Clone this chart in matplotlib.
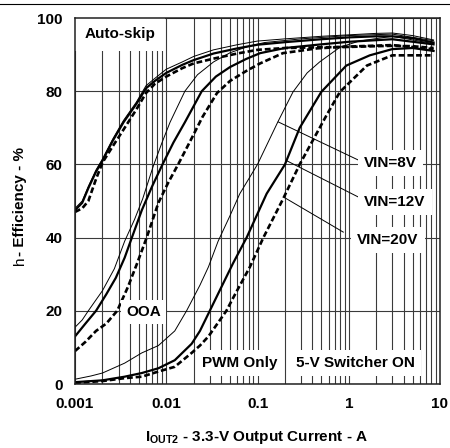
import numpy as np
import matplotlib
matplotlib.use("Agg")
import matplotlib.pyplot as plt
from matplotlib.lines import Line2D

plt.rcParams['font.family'] = ['Liberation Sans', 'DejaVu Sans']
plt.rcParams['mathtext.fontset'] = 'custom'
plt.rcParams['mathtext.rm'] = 'Liberation Sans:bold'
plt.rcParams['mathtext.bf'] = 'Liberation Sans:bold'

# ---- data (x in A, y in %) ----
# Auto-skip
as_x = [0.001, 0.0012, 0.0014, 0.0017, 0.002, 0.0026, 0.0034, 0.0047, 0.006, 0.0075, 0.01,
        0.015, 0.02, 0.033, 0.06, 0.1, 0.2, 0.5, 1.0, 2.0, 3.0, 5.0, 8.5]
as_8v = [48, 50, 54, 58.5, 61.5, 67, 72, 77, 81.5, 83.5, 86,
         88, 89.5, 91.3, 92.7, 93.7, 94.3, 95, 95.4, 95.8, 95.9, 95.2, 94]
as_12v = [47.5, 49.5, 53.5, 58, 61, 66.5, 71.5, 76.5, 80.8, 82.8, 85,
          87.2, 88.5, 90.3, 91.7, 92.7, 93.4, 94.2, 94.7, 95, 95, 94.5, 93.3]
as_20v = [47, 48, 50, 56, 60.5, 65, 69.5, 75, 79.5, 82, 84,
          86.3, 87.6, 88.9, 90.3, 91.3, 91.8, 92, 92.1, 92.3, 92.4, 92.3, 91.8]

# OOA
ooa8_x = [0.001, 0.0012, 0.0014, 0.0017, 0.002, 0.0027, 0.0035, 0.0045, 0.0055, 0.0072, 0.009,
          0.011, 0.016, 0.022, 0.033, 0.05, 0.08, 0.12, 0.3, 1.0, 3.0, 8.5]
ooa8_y = [15.5, 17.5, 20, 23, 25.5, 31.5, 39, 45, 50.5, 59.5, 66,
          71.5, 80, 84.5, 88, 90.5, 92.3, 93.3, 94.3, 95.2, 95.6, 93.8]
ooa12_x = [0.001, 0.0013, 0.0017, 0.0022, 0.0028, 0.0035, 0.0042, 0.0054, 0.007, 0.0091, 0.012,
           0.016, 0.0245, 0.035, 0.05, 0.075, 0.107, 0.2, 0.5, 1.0, 3.0, 8.5]
ooa12_y = [13, 16.5, 20, 24.5, 29, 34.5, 40, 47.5, 54, 60, 66,
           71.5, 80, 84, 86.6, 88.8, 90.4, 91.8, 92.8, 93.5, 94.2, 92.8]
ooa20_x = [0.001, 0.0013, 0.0017, 0.0022, 0.0029, 0.0038, 0.0048, 0.0061, 0.0082, 0.0105, 0.0135,
           0.018, 0.025, 0.036, 0.05, 0.075, 0.107, 0.19, 0.45, 1.0, 3.0, 8.5]
ooa20_y = [9, 11.5, 14.5, 16.5, 20, 26.5, 33, 40, 49.5, 55, 60,
           66, 73, 79.5, 82.8, 85.5, 87.6, 90.4, 91.7, 92.2, 92.6, 91.5]

# PWM only
pwm8_x = [0.001, 0.0015, 0.002, 0.0035, 0.0054, 0.0082, 0.0124, 0.0167, 0.0234, 0.029, 0.037,
          0.05, 0.064, 0.1, 0.167, 0.245, 0.35, 0.48, 0.8, 1.3, 3.0, 8.5]
pwm8_y = [1.3, 2.2, 3, 5.7, 8.5, 10.5, 14.5, 20, 27, 32, 39,
          46, 52, 60, 71.6, 79.8, 85, 88, 92, 93.7, 95, 93]
pwm12_x = [0.001, 0.002, 0.0035, 0.0054, 0.0082, 0.0124, 0.019, 0.0234, 0.03, 0.0388, 0.054,
           0.076, 0.126, 0.2, 0.29, 0.5, 0.94, 1.7, 3.0, 5.0, 8.5]
pwm12_y = [0.5, 1, 2, 3, 4.3, 6.5, 11, 14.5, 20, 25.7, 33,
           40, 52, 60, 70, 79.8, 87, 89.8, 91.5, 91.8, 91]
pwm20_x = [0.001, 0.002, 0.0035, 0.0054, 0.0082, 0.0124, 0.019, 0.0234, 0.029, 0.0388, 0.0456,
           0.054, 0.0826, 0.116, 0.19, 0.29, 0.57, 0.8, 1.58, 3.0, 8.5]
pwm20_y = [0.3, 0.8, 1.6, 2, 3.4, 4.7, 8.5, 10.5, 13, 17.5, 20,
           23.5, 32, 40, 50.5, 60, 73.4, 79.8, 87, 89.8, 89.8]

y_ticks = [0, 20, 40, 60, 80, 100]
x_ticks = [0.001, 0.01, 0.1, 1, 10]
x_tick_labels = ["0.001", "0.01", "0.1", "1", "10"]

fig = plt.figure(figsize=(4.5, 4.48), dpi=100)
ax = fig.add_axes([75/450, 64/448, 365/450, 366/448])

thin = dict(color="black", lw=0.7, zorder=2)
thick = dict(color="black", lw=1.6, zorder=2)
dash = dict(color="black", lw=1.9, dashes=(2.2, 1.1), zorder=2)

ax.plot(as_x, as_8v, **thin)
ax.plot(as_x, as_12v, **thick)
ax.plot(as_x, as_20v, **dash)
ax.plot(ooa8_x, ooa8_y, **thin)
ax.plot(ooa12_x, ooa12_y, **thick)
ax.plot(ooa20_x, ooa20_y, **dash)
ax.plot(pwm8_x, pwm8_y, **thin)
ax.plot(pwm12_x, pwm12_y, **thick)
ax.plot(pwm20_x, pwm20_y, **dash)

ax.set_xscale("log")
ax.set_xlim(0.001, 10)
ax.set_ylim(0, 100)
ax.set_xticks(x_ticks)
ax.set_xticklabels(x_tick_labels)
ax.set_yticks(y_ticks)
ax.xaxis.set_minor_locator(matplotlib.ticker.LogLocator(base=10, subs=np.arange(2, 10)))
ax.xaxis.set_minor_formatter(matplotlib.ticker.NullFormatter())
ax.tick_params(length=0, which="both", labelsize=11, pad=9)
for t in ax.get_xticklabels() + ax.get_yticklabels():
    t.set_fontweight("bold")

ax.set_axisbelow(True)
ax.grid(True, which="major", axis="y", color="#3a3a3a", lw=0.8)
ax.grid(True, which="both", axis="x", color="#3a3a3a", lw=0.8)
for s in ax.spines.values():
    s.set_linewidth(1.1)
    s.set_color("#202020")
    s.set_zorder(5)

# pointer lines from labels to the PWM curves
ax.plot([0.169, 1.27], [71.6, 61.2], color="black", lw=0.7, zorder=2)
ax.plot([0.209, 1.27], [61.0, 51.1], color="black", lw=0.7, zorder=2)
ax.plot([0.205, 0.871], [50.7, 41.5], color="black", lw=0.7, zorder=2)

box = dict(facecolor="white", edgecolor="none", pad=4.5)
lab = dict(fontsize=11, fontweight="bold", va="center", ha="left", zorder=4)
ax.text(0.00127, 95.6, "Auto-skip", bbox=dict(facecolor="white", edgecolor="none", pad=7), **lab)
ax.text(1.48, 60.4, "VIN=8V", bbox=box, **lab)
ax.text(1.48, 49.7, "VIN=12V", bbox=box, **lab)
ax.text(1.24, 39.4, "VIN=20V", bbox=box, **lab)
ax.text(0.00365, 19.6, "OOA", bbox=dict(facecolor="white", edgecolor="none", pad=3.5), **lab)
ax.text(0.0248, 5.8, "PWM Only", bbox=box, **lab)
ax.text(0.266, 5.8, "5-V Switcher ON", bbox=box, **lab)

# axis titles
fig.text(20/450, 1-265/448, "h", rotation=90, ha="center", va="bottom", fontsize=11)
fig.text(20/450, 1-256/448, "- Efficiency - %", rotation=90, ha="center", va="bottom",
         fontsize=11, fontweight="bold")
fig.text(256/450, 1-437/448, r"$\mathbf{I}_{\mathbf{OUT2}}$" + " - 3.3-V Output Current - A",
         ha="center", va="center", fontsize=11, fontweight="bold")

# rule at the top of the page
fig.add_artist(Line2D([0, 1], [1-4.5/448, 1-4.5/448], color="black", lw=0.8))

fig.savefig("out.png", dpi=100)
